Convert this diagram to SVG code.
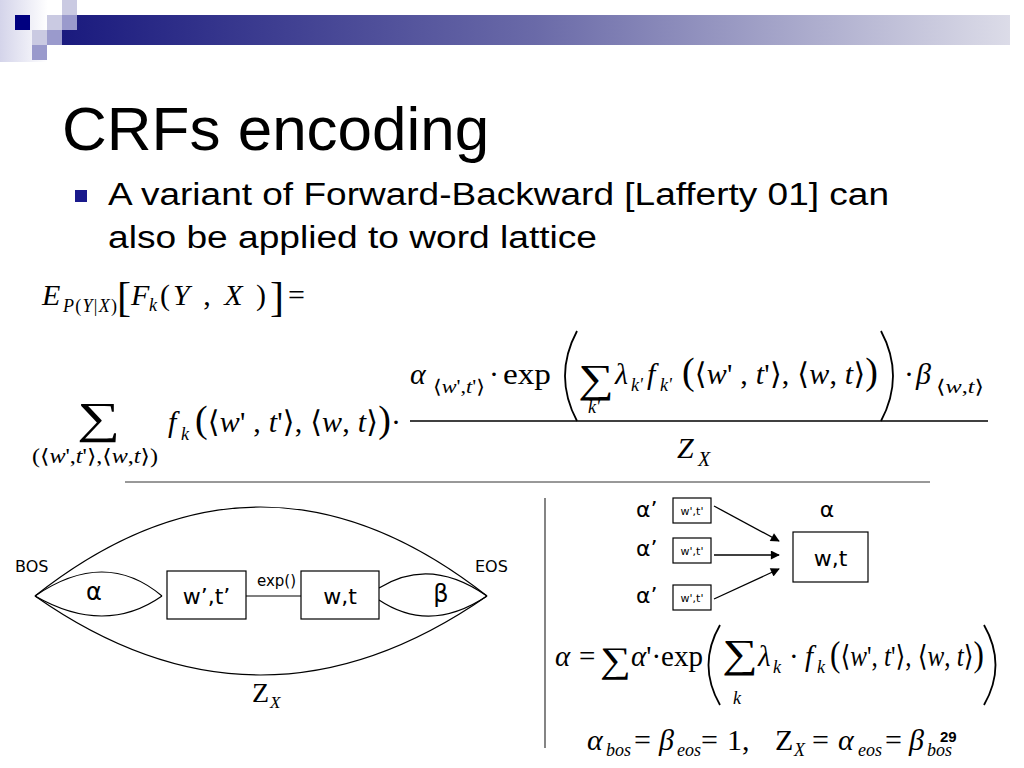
<svg xmlns="http://www.w3.org/2000/svg" width="1024" height="768" viewBox="0 0 1024 768">
<defs>
<linearGradient id="bar" x1="0" y1="0" x2="1" y2="0">
<stop offset="0" stop-color="#1a1a7e"/>
<stop offset="0.5" stop-color="#6a6aa8"/>
<stop offset="1" stop-color="#dcdce8"/>
</linearGradient>
<linearGradient id="fade" x1="0" y1="0" x2="1" y2="0">
<stop offset="0" stop-color="#d4d4ea"/>
<stop offset="1" stop-color="#ffffff"/>
</linearGradient>
<marker id="arr" viewBox="0 0 10 10" refX="9" refY="5" markerWidth="11" markerHeight="9" orient="auto" markerUnits="userSpaceOnUse">
<path d="M0,0 L10,5 L0,10 z" fill="#000"/>
</marker>
<style>
.sans{font-family:"Liberation Sans",Arial,sans-serif;fill:#000}
.dv{font-family:"DejaVu Sans",Verdana,sans-serif;fill:#000}
.s{font-family:"Liberation Serif","DejaVu Serif",serif;fill:#000}
.i{font-style:italic}
.ln{fill:none;stroke:#000;stroke-width:1.2}
.par{fill:none;stroke:#000;stroke-width:1.8}
.box{fill:#fff;stroke:#000;stroke-width:1.2}
.arrow{fill:none;stroke:#000;stroke-width:1.3;marker-end:url(#arr)}
</style>
</defs>
<rect width="1024" height="768" fill="#fff"/>
<g id="decoration">
<rect x="0" y="0" width="48" height="62" fill="url(#fade)"/>
<rect x="62" y="15" width="948" height="30" fill="url(#bar)"/>
<rect x="15" y="15" width="15" height="15" fill="#000080"/>
<rect x="47" y="15" width="15" height="15" fill="#cacae2"/>
<rect x="62" y="0" width="15" height="15" fill="#cacae2"/>
<rect x="62" y="15" width="15" height="15" fill="#9a9acc"/>
<rect x="32" y="30" width="15" height="15" fill="#cacae2"/>
<rect x="47" y="30" width="15" height="15" fill="#9a9acc"/>
<rect x="32" y="45" width="15" height="15" fill="#9a9acc"/>
</g>
<g id="title">
<text class="sans" x="62" y="150" font-size="62">CRFs encoding</text>
<rect x="75" y="190" width="12" height="12" fill="#1a1a8c"/>
<text class="sans" x="108" y="205" font-size="31" textLength="781" lengthAdjust="spacingAndGlyphs">A variant of Forward-Backward [Lafferty 01] can</text>
<text class="sans" x="108" y="248" font-size="31" textLength="489" lengthAdjust="spacingAndGlyphs">also be applied to word lattice</text>
</g>
<g id="formula-expectation">
<text class="s i" font-size="30" x="42" y="305">E</text>
<text class="s" font-size="18" y="312" x="63" textLength="54"><tspan class="i">P</tspan>(<tspan class="i">Y</tspan>|<tspan class="i">X</tspan>)</text>
<text class="s" font-size="42" x="117" y="311">[</text>
<text class="s i" font-size="30" x="131" y="305">F</text>
<text class="s i" font-size="18" x="149" y="311">k</text>
<text class="s" font-size="30" x="160" y="305" textLength="106">(<tspan class="i">Y</tspan> , <tspan class="i">X</tspan> )</text>
<text class="s" font-size="42" x="270" y="311">]</text>
<text class="s" font-size="30" x="288" y="305">=</text>
</g>
<g id="formula-sum">
<text class="s" font-size="44" x="0" y="0" transform="translate(77,433) scale(1.38,1)">∑</text>
<text class="s" font-size="20" x="32" y="463" textLength="126" lengthAdjust="spacingAndGlyphs">(⟨<tspan class="i">w</tspan>',<tspan class="i">t</tspan>'⟩,⟨<tspan class="i">w</tspan>,<tspan class="i">t</tspan>⟩)</text>
<text class="s i" font-size="30" x="168" y="432">f</text>
<text class="s i" font-size="18" x="181" y="440">k</text>
<text class="s" font-size="30" x="195" y="432" textLength="206"><tspan font-size="38">(</tspan>⟨<tspan class="i">w</tspan>' , <tspan class="i">t</tspan>'⟩, ⟨<tspan class="i">w</tspan>, <tspan class="i">t</tspan>⟩<tspan font-size="38">)</tspan>·</text>
<text class="s i" font-size="30" x="410" y="384">α</text>
<text class="s" font-size="19" x="433" y="393" textLength="52" lengthAdjust="spacingAndGlyphs">⟨<tspan class="i">w</tspan>',<tspan class="i">t</tspan>'⟩</text>
<text class="s" font-size="30" x="489" y="384">·</text>
<text class="s" font-size="30" x="503" y="384" textLength="48" lengthAdjust="spacingAndGlyphs">exp</text>
<path class="par" d="M577,331 Q553,376 577,421"/>
<text class="s" font-size="40" x="0" y="0" transform="translate(578,392) scale(1.25,1)">∑</text>
<text class="s i" font-size="18" x="588" y="413">k'</text>
<text class="s i" font-size="30" x="615" y="384">λ</text>
<text class="s i" font-size="18" x="631" y="391">k'</text>
<text class="s i" font-size="30" x="647" y="384">f</text>
<text class="s i" font-size="18" x="660" y="391">k'</text>
<text class="s" font-size="30" x="682" y="384" textLength="196"><tspan font-size="38">(</tspan>⟨<tspan class="i">w</tspan>' , <tspan class="i">t</tspan>'⟩, ⟨<tspan class="i">w</tspan>, <tspan class="i">t</tspan>⟩<tspan font-size="38">)</tspan></text>
<path class="par" d="M881,331 Q905,376 881,421"/>
<text class="s" font-size="30" x="904" y="384">·</text>
<text class="s i" font-size="30" x="916" y="384">β</text>
<text class="s" font-size="19" x="936" y="393" textLength="48" lengthAdjust="spacingAndGlyphs">⟨<tspan class="i">w</tspan>,<tspan class="i">t</tspan>⟩</text>
<line x1="410" y1="421" x2="988" y2="421" stroke="#000" stroke-width="1.3"/>
<text class="s i" font-size="30" x="677" y="458">Z</text>
<text class="s i" font-size="20" x="698" y="466">X</text>
</g>
<g id="separators">
<line x1="125" y1="482" x2="930" y2="482" stroke="#333" stroke-width="1"/>
<line x1="545" y1="498" x2="545" y2="748" stroke="#333" stroke-width="1.2"/>
</g>
<g id="lattice-connectors">
<path class="ln" d="M35,596 Q260,418 487,596"/>
<path class="ln" d="M35,596 Q260,754 487,596"/>
<path class="ln" d="M35,596 Q105,548 162,596"/>
<path class="ln" d="M35,596 Q105,636 162,596"/>
<path class="ln" d="M379,588 Q430,556 487,596"/>
<path class="ln" d="M379,600 Q430,634 487,596"/>
<line class="ln" x1="246" y1="596" x2="301" y2="596"/>
</g>
<g id="bos"><text class="dv" x="15" y="572" font-size="16">BOS</text></g>
<g id="eos"><text class="dv" x="475" y="572" font-size="16">EOS</text></g>
<g id="alpha-label"><text class="dv" x="94" y="600" font-size="24" text-anchor="middle">α</text></g>
<g id="beta-label"><text class="dv" x="441" y="602" font-size="24" text-anchor="middle">β</text></g>
<g id="exp-label"><text class="dv" x="257" y="586" font-size="15">exp()</text></g>
<g id="node-wt-prev">
<rect class="box" x="167" y="571" width="79" height="48"/>
<text class="dv" x="206.5" y="604" font-size="22" text-anchor="middle">w’,t’</text>
</g>
<g id="node-wt">
<rect class="box" x="301" y="571" width="78" height="48"/>
<text class="dv" x="340" y="604" font-size="22" text-anchor="middle">w,t</text>
</g>
<g id="zx-label">
<text class="s" font-size="28" x="252" y="702">Z</text>
<text class="s i" font-size="17" x="270" y="708">X</text>
</g>
<g id="right-connectors">
<line class="arrow" x1="714" y1="506" x2="779" y2="541"/>
<line class="arrow" x1="714" y1="555" x2="779" y2="555"/>
<line class="arrow" x1="714" y1="599" x2="779" y2="569"/>
</g>
<g id="prev1">
<text class="dv" x="636" y="517" font-size="22">α’</text>
<rect class="box" x="673" y="498" width="38" height="25"/>
<text class="dv" x="692" y="515" font-size="11" text-anchor="middle">w',t'</text>
</g>
<g id="prev2">
<text class="dv" x="636" y="556" font-size="22">α’</text>
<rect class="box" x="673" y="538" width="38" height="25"/>
<text class="dv" x="692" y="555" font-size="11" text-anchor="middle">w',t'</text>
</g>
<g id="prev3">
<text class="dv" x="636" y="603" font-size="22">α’</text>
<rect class="box" x="673" y="585" width="38" height="25"/>
<text class="dv" x="692" y="602" font-size="11" text-anchor="middle">w',t'</text>
</g>
<g id="current">
<text class="dv" x="827" y="517" font-size="22" text-anchor="middle">α</text>
<rect class="box" x="793" y="532" width="75" height="50"/>
<text class="dv" x="830.5" y="566" font-size="22" text-anchor="middle">w,t</text>
</g>
<g id="formula-alpha">
<text class="s i" font-size="29" x="555" y="666">α</text>
<text class="s" font-size="29" x="579" y="666">=</text>
<text class="s" font-size="36" x="0" y="0" transform="translate(600,672) scale(1.2,1)">∑</text>
<text class="s" font-size="29" x="631" y="666"><tspan class="i">α</tspan>'·exp</text>
<path class="par" d="M720,625 Q697,665 720,705"/>
<text class="s" font-size="40" x="0" y="0" transform="translate(722,667) scale(1.25,1)">∑</text>
<text class="s i" font-size="18" x="733" y="704">k</text>
<text class="s i" font-size="29" x="758" y="666">λ</text>
<text class="s i" font-size="18" x="773" y="673">k</text>
<text class="s" font-size="29" x="789" y="666">·</text>
<text class="s i" font-size="29" x="805" y="666">f</text>
<text class="s i" font-size="18" x="817" y="673">k</text>
<text class="s" font-size="29" x="830" y="666" textLength="154" lengthAdjust="spacingAndGlyphs"><tspan font-size="36">(</tspan>⟨<tspan class="i">w</tspan>', <tspan class="i">t</tspan>'⟩, ⟨<tspan class="i">w</tspan>, <tspan class="i">t</tspan>⟩<tspan font-size="36">)</tspan></text>
<path class="par" d="M984,625 Q1007,665 984,705"/>
</g>
<g id="formula-init">
<text class="s i" font-size="30" x="587" y="750">α</text>
<text class="s i" font-size="18" x="606" y="756">bos</text>
<text class="s" font-size="30" x="634" y="750">=</text>
<text class="s i" font-size="30" x="659" y="750">β</text>
<text class="s i" font-size="18" x="677" y="756">eos</text>
<text class="s" font-size="30" x="701" y="750">=</text>
<text class="s" font-size="30" x="727" y="750">1,</text>
<text class="s" font-size="30" x="775" y="750">Z</text>
<text class="s i" font-size="18" x="794" y="756">X</text>
<text class="s" font-size="30" x="812" y="750">=</text>
<text class="s i" font-size="30" x="838" y="750">α</text>
<text class="s i" font-size="18" x="858" y="756">eos</text>
<text class="s" font-size="30" x="885" y="750">=</text>
<text class="s i" font-size="30" x="909" y="750">β</text>
<text class="s i" font-size="18" x="927" y="756">bos</text>
</g>
<g id="page-number"><text class="sans" x="940" y="742" font-size="15" font-weight="bold">29</text></g>
</svg>
